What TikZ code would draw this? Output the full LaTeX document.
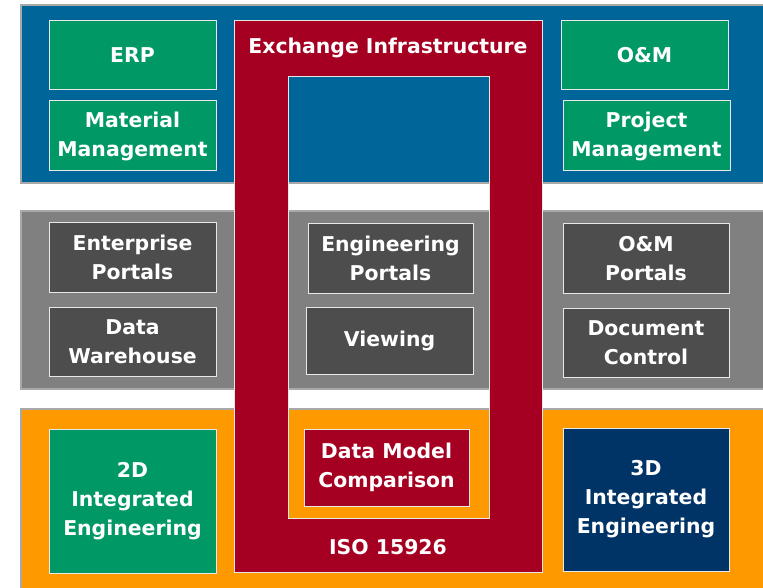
\documentclass[tikz,border=0pt]{standalone}
\usepackage{fontspec}
\setmainfont{DejaVu Sans}
\definecolor{bandblue}{HTML}{006699}
\definecolor{bandgray}{HTML}{808080}
\definecolor{bandorange}{HTML}{FF9900}
\definecolor{xred}{HTML}{A50021}
\definecolor{boxgreen}{HTML}{009966}
\definecolor{boxdark}{HTML}{4D4D4D}
\definecolor{boxnavy}{HTML}{003366}
\definecolor{bandedge}{HTML}{A8A8A8}
\definecolor{boxedge}{HTML}{E8E8E8}
\begin{document}
\begin{tikzpicture}[x=1pt,y=-1pt,
  band/.style={draw=bandedge,line width=1.2pt},
  box/.style={draw=boxedge,line width=1pt,rectangle,inner sep=0pt,align=center,
    text=white,font=\bfseries\fontsize{20.4}{29}\selectfont},
  lbl/.style={inner sep=0pt,text=white,font=\bfseries\fontsize{20.4}{29}\selectfont}]
\useasboundingbox (0,0) rectangle (763,588);
\fill[white] (0,0) rectangle (763,588);
% bands
\draw[band,fill=bandblue] (21,5) rectangle (770,183);
\draw[band,fill=bandgray] (21,211) rectangle (770,389);
\draw[band,fill=bandorange] (21,409) rectangle (770,595);
% exchange infrastructure frame
\draw[draw=boxedge,line width=1pt,fill=xred,even odd rule]
  (234,21) rectangle (542,572) (288,77) rectangle (489,518);
\node[lbl] (xi) at (388,48) {Exchange Infrastructure};
\node[lbl] (iso) at (388,547) {ISO 15926};
% top row
\node[box,fill=boxgreen,minimum width=167pt,minimum height=69pt] (erp) at (132.5,55.5) {ERP};
\node[box,fill=boxgreen,minimum width=167pt,minimum height=70pt] (mm) at (132.5,136) {Material\\Management};
\node[box,fill=boxgreen,minimum width=167pt,minimum height=69pt] (om) at (644.5,55.5) {O\&M};
\node[box,fill=boxgreen,minimum width=167pt,minimum height=70pt] (pm) at (646.5,136) {Project\\Management};
% middle row
\node[box,fill=boxdark,minimum width=167pt,minimum height=69pt] (ep) at (132.5,257.5) {Enterprise\\Portals};
\node[box,fill=boxdark,minimum width=167pt,minimum height=69pt] (dw) at (132.5,341.5) {Data\\Warehouse};
\node[box,fill=boxdark,minimum width=165pt,minimum height=69pt] (engp) at (390.5,258.5) {Engineering\\Portals};
\node[box,fill=boxdark,minimum width=167pt,minimum height=67pt] (view) at (389.5,340.5) {Viewing};
\node[box,fill=boxdark,minimum width=166pt,minimum height=69pt] (omp) at (646,258.5) {O\&M\\Portals};
\node[box,fill=boxdark,minimum width=166pt,minimum height=69pt] (dc) at (646,342.5) {Document\\Control};
% bottom row
\node[box,fill=boxgreen,minimum width=167pt,minimum height=144pt] (twod) at (132.5,501) {2D\\Integrated\\Engineering};
\node[box,fill=boxnavy,minimum width=166pt,minimum height=143pt] (threed) at (646,499.5) {3D\\Integrated\\Engineering};
\node[box,fill=xred,minimum width=165pt,minimum height=77pt] (dmc) at (386.5,467.5) {Data Model\\Comparison};
\end{tikzpicture}
\end{document}
